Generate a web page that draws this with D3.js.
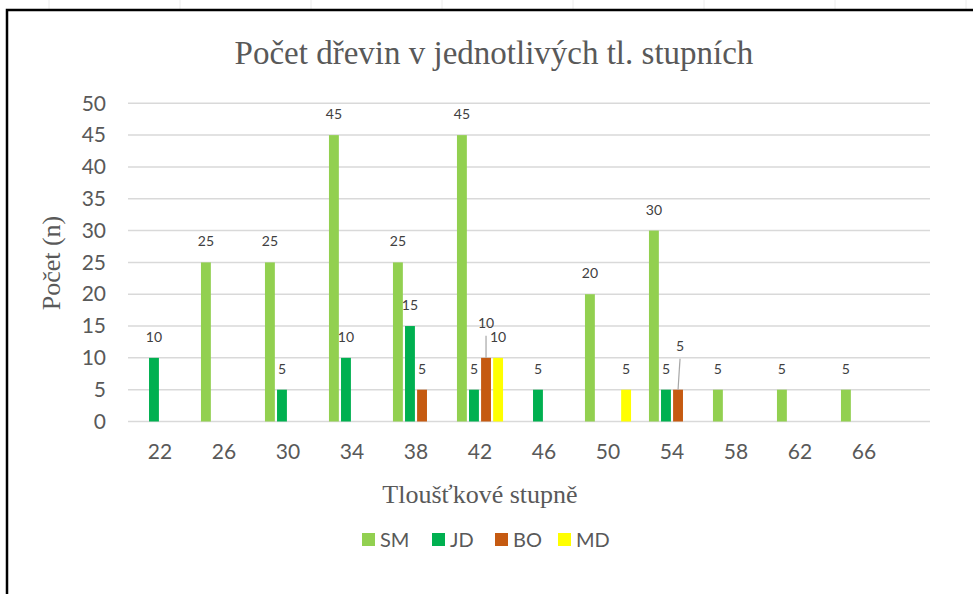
<!DOCTYPE HTML>
<html lang="cs">
<head>
<meta charset="utf-8">
<title>Počet dřevin v jednotlivých tl. stupních</title>
<script src="https://cdn.jsdelivr.net/npm/d3@7"></script>
<style>
html,body{margin:0;padding:0;background:#fff}
svg{display:block}
</style>
</head>
<body>
<div id="chart"></div>
<script>
// data
var categories=["22","26","30","34","38","42","46","50","54","58","62","66"];
var seriesNames=["SM","JD","BO","MD"];
var valuesSM=[0,25,25,45,25,45,0,20,30,5,5,5];
var valuesJD=[10,0,5,10,15,5,5,0,5,0,0,0];
var valuesBO=[0,0,0,0,5,10,0,0,5,0,0,0];
var valuesMD=[0,0,0,0,0,10,0,5,0,0,0,0];
var yTicks=[0,5,10,15,20,25,30,35,40,45,50];

var colors={SM:"#92d050",JD:"#00b050",BO:"#c55a11",MD:"#ffff00"};
var W=973,H=594;
var plot={left:128,right:930,top:103.3,bottom:421.5};
var sansFont="Lato, 'Open Sans', sans-serif";
var serifFont="'Liberation Serif', 'DejaVu Serif', serif";

var svg=d3.select("#chart").append("svg").attr("width",W).attr("height",H);

// faint sheet grid above the chart frame
svg.append("g").selectAll("line").data(d3.range(8)).enter().append("line")
    .attr("x1",function(d){return 49+d*131}).attr("x2",function(d){return 49+d*131})
    .attr("y1",0).attr("y2",10)
    .attr("stroke","#ececec").attr("stroke-width",1);

// frame
svg.append("rect").attr("x",7).attr("y",10).attr("width",W+20).attr("height",H+20)
    .attr("fill","#fff").attr("stroke","#000").attr("stroke-width",2.5);

var x0=d3.scaleBand().domain(categories).range([plot.left,plot.left+64*categories.length]).paddingInner(0.28).paddingOuter(0.14);
var x1=d3.scaleBand().domain(seriesNames).range([0,x0.bandwidth()]).paddingInner(0.18);
var y=d3.scaleLinear().domain([0,50]).range([plot.bottom,plot.top]);

// gridlines
svg.append("g").selectAll("line").data(yTicks).enter().append("line")
    .attr("x1",plot.left).attr("x2",plot.right)
    .attr("y1",function(d){return y(d)}).attr("y2",function(d){return y(d)})
    .attr("stroke","#d9d9d9").attr("stroke-width",1.5);

// y axis labels
var yAxis=d3.axisLeft(y).tickValues(yTicks).tickSize(0).tickPadding(0);
var gy=svg.append("g").attr("transform","translate(106,0)").call(yAxis);
gy.select(".domain").remove();
gy.selectAll("text").attr("font-family",sansFont).attr("font-size",21).attr("fill","#595959");

// x axis labels
var xAxis=d3.axisBottom(x0).tickSize(0).tickPadding(0);
var gx=svg.append("g").attr("transform","translate(0,444)").call(xAxis);
gx.select(".domain").remove();
gx.selectAll("text").attr("font-family",sansFont).attr("font-size",21).attr("fill","#595959");

// bars
var table=[];
categories.forEach(function(c,i){
    var row={cat:c,SM:valuesSM[i],JD:valuesJD[i],BO:valuesBO[i],MD:valuesMD[i]};
    table.push(row);
});
var groups=svg.append("g").selectAll("g").data(table).enter().append("g")
    .attr("transform",function(d){return "translate("+x0(d.cat)+",0)"});
var items=groups.selectAll("g").data(function(d){
    return seriesNames.map(function(s){return {cat:d.cat,key:s,value:d[s]}}).filter(function(e){return e.value>0});
}).enter().append("g");
items.append("rect")
    .attr("x",function(d){return x1(d.key)})
    .attr("width",x1.bandwidth())
    .attr("y",function(d){return y(d.value)})
    .attr("height",function(d){return y(0)-y(d.value)})
    .attr("fill",function(d){return colors[d.key]});

// labels (two were dragged by hand in the original, with leader lines)
var moved={"42BO":[0,-30],"54BO":[2,-39]};
items.each(function(d){
    var g=d3.select(this);
    var cx=x1(d.key)+x1.bandwidth()/2;
    var top=y(d.value);
    var off=moved[d.cat+d.key]||[0,-16];
    var ly=top+off[1];
    if(moved[d.cat+d.key]){
        g.append("line").attr("x1",cx).attr("y1",top).attr("x2",cx+off[0]).attr("y2",ly+8)
            .attr("stroke","#a6a6a6").attr("stroke-width",1.2);
    }
    g.append("text").attr("x",cx+off[0]).attr("y",ly)
        .attr("text-anchor","middle")
        .attr("font-family",sansFont).attr("font-size",14).attr("fill","#404040")
        .text(d.value);
});

// titles
svg.append("text").attr("x",494).attr("y",64).attr("text-anchor","middle")
    .attr("font-family",serifFont).attr("font-size",33).attr("fill","#595959")
    .text("Počet dřevin v jednotlivých tl. stupních");
svg.append("text").attr("transform","translate(60,263) rotate(-90)").attr("text-anchor","middle")
    .attr("font-family",serifFont).attr("font-size",26).attr("fill","#595959")
    .text("Počet (n)");
svg.append("text").attr("x",480).attr("y",503).attr("text-anchor","middle")
    .attr("font-family",serifFont).attr("font-size",26).attr("fill","#595959")
    .text("Tloušťkové stupně");

// legend
var legendX=[362,432,495,558];
var lg=svg.append("g").selectAll("g").data(seriesNames).enter().append("g")
    .attr("transform",function(d,i){return "translate("+legendX[i]+",533)"});
lg.append("rect").attr("width",13).attr("height",13).attr("fill",function(d){return colors[d]});
lg.append("text").attr("x",18).attr("y",14)
    .attr("font-family",sansFont).attr("font-size",20).attr("fill","#595959")
    .text(function(d){return d});
</script>
</body>
</html>
